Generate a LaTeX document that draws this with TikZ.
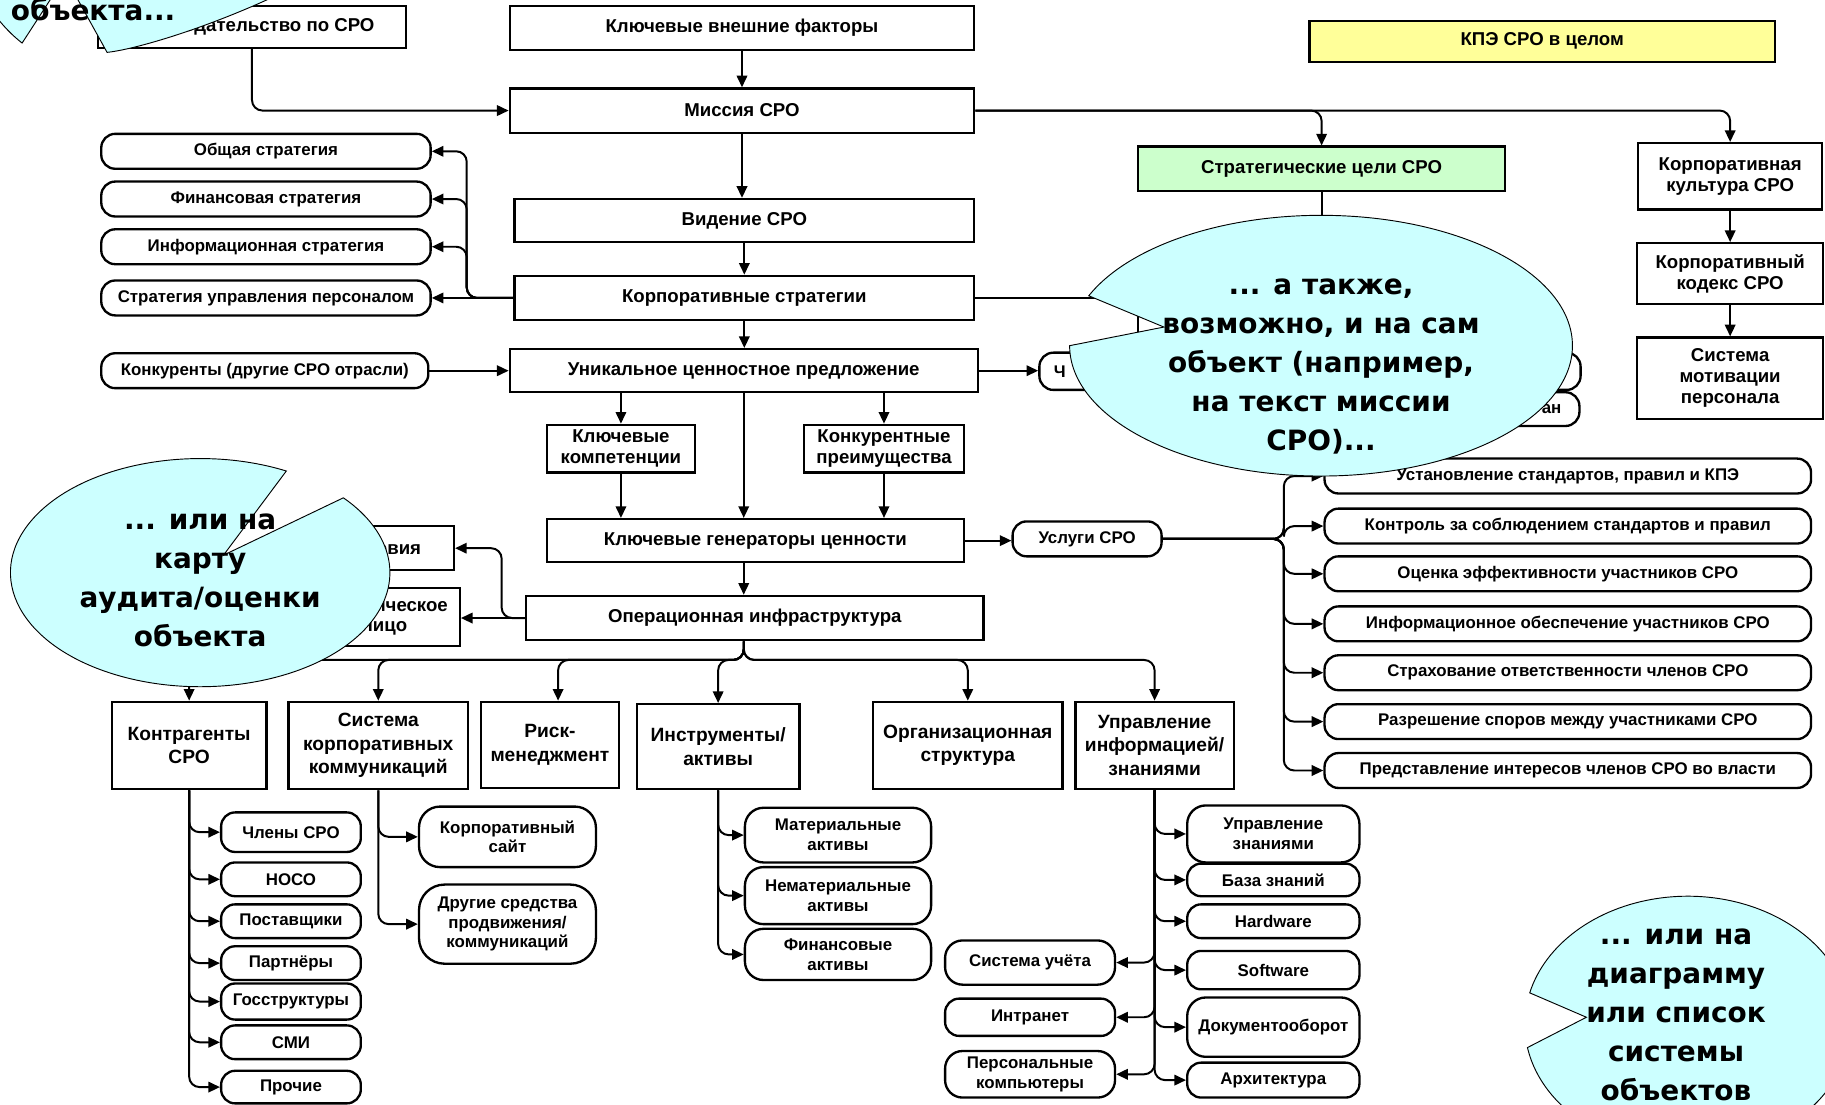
\documentclass[tikz,border=0pt]{standalone}
\usepackage{fontspec}
\newfontfamily\dgfont{Liberation Sans}
\newfontfamily\clfont{DejaVu Sans}
\usetikzlibrary{arrows.meta,calc}
\definecolor{cyanfill}{HTML}{CCFFFF}
\definecolor{greenfill}{HTML}{CCFFCC}
\definecolor{yellowfill}{HTML}{FFFF99}
\newcommand\FMain{\dgfont\bfseries\fontsize{16}{18}\selectfont}
\newcommand\FMid{\dgfont\bfseries\fontsize{16.5}{20}\selectfont}
\newcommand\FSmall{\dgfont\bfseries\fontsize{14.5}{17}\selectfont}
\newcommand\FCall{\clfont\bfseries\fontsize{24}{33.5}\selectfont}
\begin{document}
\begin{tikzpicture}[x=1pt,y=-1pt,
  wh/.style 2 args={minimum width=#1pt,minimum height=#2pt},
  box/.style={draw,line width=2pt,fill=white,align=center,inner sep=1pt,font=\FMain},
  midbox/.style={box,font=\FMid},
  rbox/.style={draw,line width=2pt,fill=white,rounded corners=12pt,align=center,inner sep=1pt,font=\FSmall},
  arr/.style={line width=1.7pt,-{Triangle[length=10pt,width=9pt]}},
  rc/.style={rounded corners=9pt},
  call/.style={fill=cyanfill,draw=black,line width=0.8pt},
  ctext/.style={font=\FCall,align=center,inner sep=0pt}]
\useasboundingbox (0,0) rectangle (1568,949);
\fill[white] (0,0) rectangle (1568,949);
\begin{scope}
\clip (0,0) rectangle (1568,949);
% ---------- top part
\node[box,wh={265}{36}] (zak) at (216.5,23) {Законодательство по СРО};
\node[box,wh={399}{38}] (kvf) at (637.5,24) {Ключевые внешние факторы};
\node[box,wh={400}{35},fill=yellowfill] (kpe) at (1325,35.5) {КПЭ СРО в целом};
\node[box,wh={399}{38}] (mis) at (637.5,95) {Миссия СРО};
\node[box,wh={315}{38},fill=greenfill] (sc) at (1135.5,145) {Стратегические цели СРО};
\node[box,wh={158}{57}] (kk) at (1486.5,151.5) {Корпоративная\\культура СРО};
\node[box,wh={160}{52}] (kod) at (1486.5,235) {Корпоративный\\кодекс СРО};
\node[box,wh={160}{70}] (mot) at (1486.5,325) {Система\\мотивации\\персонала};
\node[box,wh={395}{37}] (vid) at (639.5,189.5) {Видение СРО};
\node[box,wh={395}{38}] (ks) at (639.5,256) {Корпоративные стратегии};
\node[rbox,wh={283}{30}] (s1) at (228.5,130) {Общая стратегия};
\node[rbox,wh={283}{30}] (s2) at (228.5,171) {Финансовая стратегия};
\node[rbox,wh={283}{30}] (s3) at (228.5,212) {Информационная стратегия};
\node[rbox,wh={283}{30}] (s4) at (228.5,256) {Стратегия управления персоналом};
% hidden (under the callout)
\node[box,wh={312}{50}] (hid) at (1134,265) {};
\node[rbox,wh={465}{32}] (chb) at (1125.5,319) {};
\node[rbox,wh={357}{29}] (anb) at (1178.5,351.5) {};
\node[font=\FSmall,anchor=west] (chtxt) at ($(chb.west)+(10,0)$) {Ч};
\node[font=\FSmall,anchor=east] (antxt) at ($(anb.east)+(-13,0)$) {ан};
% middle
\node[box,wh={402}{37}] (ucp) at (639,318.5) {Уникальное ценностное предложение};
\node[rbox,wh={281}{30}] (konk) at (227.5,318.5) {Конкуренты (другие СРО отрасли)};
\node[box,wh={127}{41}] (kkomp) at (533.5,385.5) {Ключевые\\компетенции};
\node[box,wh={137}{41}] (kpre) at (759.5,385.5) {Конкурентные\\преимущества};
\node[box,wh={358}{37}] (kgc) at (649,464.5) {Ключевые генераторы ценности};
\node[rbox,wh={128}{30}] (usl) at (934,463) {Услуги СРО};
\node[box,wh={393}{38}] (oi) at (648.5,531) {Операционная инфраструктура};
\node[box,wh={123}{38}] (viya) at (328.5,471) {Условия};
\node[box,wh={130}{50}] (lico) at (330,530) {Юридическое\\лицо};
% services
\node[rbox,wh={418}{30}] (u1) at (1347,409) {Установление стандартов, правил и КПЭ};
\node[rbox,wh={418}{30}] (u2) at (1347,452) {Контроль за соблюдением стандартов и правил};
\node[rbox,wh={418}{30}] (u3) at (1347,493) {Оценка эффективности участников СРО};
\node[rbox,wh={418}{30}] (u4) at (1347,536) {Информационное обеспечение участников СРО};
\node[rbox,wh={418}{30}] (u5) at (1347,578) {Страхование ответственности членов СРО};
\node[rbox,wh={418}{30}] (u6) at (1347,620) {Разрешение споров между участниками СРО};
\node[rbox,wh={418}{30}] (u7) at (1347,662) {Представление интересов членов СРО во власти};
% level 2
\node[midbox,wh={133}{75}] (kontr) at (162.5,640.5) {Контрагенты\\СРО};
\node[midbox,wh={154}{75}] (skk) at (325,640.5) {Система\\корпоративных\\коммуникаций};
\node[midbox,wh={119}{74}] (risk) at (472.5,640) {Риск-\\менеджмент};
\node[midbox,wh={140}{73}] (instr) at (617,641.5) {Инструменты/\\активы};
\node[midbox,wh={163}{75}] (org) at (831.5,640.5) {Организационная\\структура};
\node[midbox,wh={136}{75}] (uiz) at (992,640.5) {Управление\\информацией/\\знаниями};
% children
\node[rbox,wh={120}{34}] (chl) at (250,715) {Члены СРО};
\node[rbox,wh={120}{29}] (noso) at (250,755.5) {НОСО};
\node[rbox,wh={120}{29}] (post) at (250,791.5) {Поставщики};
\node[rbox,wh={120}{29}] (part) at (250,827.5) {Партнёры};
\node[rbox,wh={120}{31}] (gos) at (250,860.5) {Госструктуры};
\node[rbox,wh={120}{29}] (smi) at (250,895.5) {СМИ};
\node[rbox,wh={120}{28}] (pro) at (250,934) {Прочие};
\node[rbox,wh={152}{52},rounded corners=18pt] (site) at (436,719) {Корпоративный\\сайт};
\node[rbox,wh={152}{68},rounded corners=22pt] (dr) at (436,794) {Другие средства\\продвижения/\\коммуникаций};
\node[rbox,wh={160}{47},rounded corners=16pt] (mat) at (720,717.5) {Материальные\\активы};
\node[rbox,wh={160}{49},rounded corners=16pt] (nemat) at (720,769.5) {Нематериальные\\активы};
\node[rbox,wh={160}{44},rounded corners=16pt] (fin) at (720,820) {Финансовые\\активы};
\node[rbox,wh={148}{49},rounded corners=16pt] (uzn) at (1094,716.5) {Управление\\знаниями};
\node[rbox,wh={148}{28}] (baza) at (1094,756) {База знаний};
\node[rbox,wh={148}{29}] (hw) at (1094,791.5) {Hardware};
\node[rbox,wh={148}{33}] (sw) at (1094,833.5) {Software};
\node[rbox,wh={148}{51},rounded corners=16pt] (doc) at (1094,882.5) {Документооборот};
\node[rbox,wh={148}{30}] (arch) at (1094,928) {Архитектура};
\node[rbox,wh={146}{38},rounded corners=15pt] (uch) at (885,827) {Система учёта};
\node[rbox,wh={146}{32}] (intr) at (885,874) {Интранет};
\node[rbox,wh={146}{40},rounded corners=15pt] (pc) at (885,923) {Персональные\\компьютеры};
% ---------- connectors
\draw[arr] (kvf.south) -- (mis.north);
\draw[arr] (mis.south) -- (mis.south |- vid.north);
\draw[arr] (vid.south) -- (vid.south |- ks.north);
\draw[arr] (ks.south) -- (ks.south |- ucp.north);
\draw[arr] (ucp.south) -- (ucp.south |- kgc.north);
\draw[arr] (kkomp.north |- ucp.south) -- (kkomp.north);
\draw[arr] (kpre.north |- ucp.south) -- (kpre.north);
\draw[arr] (kkomp.south) -- (kkomp.south |- kgc.north);
\draw[arr] (kpre.south) -- (kpre.south |- kgc.north);
\draw[arr] (ucp.south |- kgc.south) -- (ucp.south |- oi.north);
\draw[arr,rc] (zak.south) |- (mis.west);
\draw[arr,rc] (mis.east) -| (kk.north);
\draw[arr,rc] (mis.east) -| (sc.north);
\draw[arr] (sc.south) -- (sc.south |- hid.north);
\draw[arr] (kk.south) -- (kk.south |- kod.north);
\draw[arr] (kod.south) -- (mot.north);
\draw[arr] (ks.east) -- (ks.east -| hid.west);
\coordinate (sv) at ($(ks.west)+(-40,0)$);
\draw[arr] (ks.west) -- (ks.west -| s4.east);
\foreach \s in {s1,s2,s3} \draw[arr,rc] (ks.west) -- (sv) |- (\s.east);
\draw[arr] (konk.east) -- (konk.east -| ucp.west);
\draw[arr] (ucp.east) -- (ucp.east -| chb.west);
\draw[arr] (kgc.east) -- (kgc.east -| usl.west);
\coordinate (uv) at ($(usl.east)+(104,0)$);
\foreach \u in {u1,u2,u3,u4,u5,u6,u7} \draw[arr,rc] (usl.east) -- (uv) |- (\u.west);
\draw[arr] (oi.west) -- (oi.west -| lico.east);
\draw[arr,rc] (oi.west) -- ++(-20,0) |- (viya.east);
\coordinate (obus) at ($(oi.south)+(-9.5,0)$);
\foreach \b in {kontr,skk,instr,org,uiz} \draw[arr,rc] (obus) -- ++(0,16) -| (\b.north);
\draw[arr,rc] (obus) -- ++(0,16) -| ([xshift=7pt]risk.north);
\foreach \c in {chl,noso,post,part,gos,smi,pro} \draw[arr,rc] (kontr.south) |- (\c.west);
\foreach \c in {site,dr} \draw[arr,rc] (skk.south) |- (\c.west);
\foreach \c in {mat,nemat,fin} \draw[arr,rc] (instr.south) |- (\c.west);
\foreach \c in {uzn,baza,hw,sw,doc,arch} \draw[arr,rc] (uiz.south) |- (\c.west);
\foreach \c in {uch,intr,pc} \draw[arr,rc] (uiz.south) |- (\c.east);
% ---------- callouts
\path[call] (-10,-80) -- (-10,5) .. controls (0,20) and (10,30) .. (19,37) -- (56,-20) -- (92,45)
  .. controls (120,42) and (190,20) .. (250,-10) -- (250,-80) -- cycle;
\node[ctext,anchor=base] (ta) at (80,18) {объекта...};
\path[call] (172,492) ++(63:163pt and 98pt) arc[start angle=63,end angle=401,x radius=163pt,y radius=98pt] -- (192,477) -- cycle;
\node[ctext] (tb) at (172,499) {... или на\\карту\\аудита/оценки\\объекта};
\path[call] (1135,297) ++(180:216pt and 112pt) arc[start angle=180,end angle=517.5,x radius=216pt,y radius=112pt] -- (1000,281) -- cycle;
\node[ctext] (tc) at (1135,315) {... а также,\\возможно, и на сам\\объект (например,\\на текст миссии\\СРО)...};
\path[call] (1450,880) ++(190.5:140pt and 110pt) arc[start angle=190.5,end angle=525.8,x radius=140pt,y radius=110pt] -- (1363,874) -- cycle;
\node[ctext] (td) at (1440,872) {... или на\\диаграмму\\или список\\системы\\объектов};
\end{scope}
\end{tikzpicture}
\end{document}
